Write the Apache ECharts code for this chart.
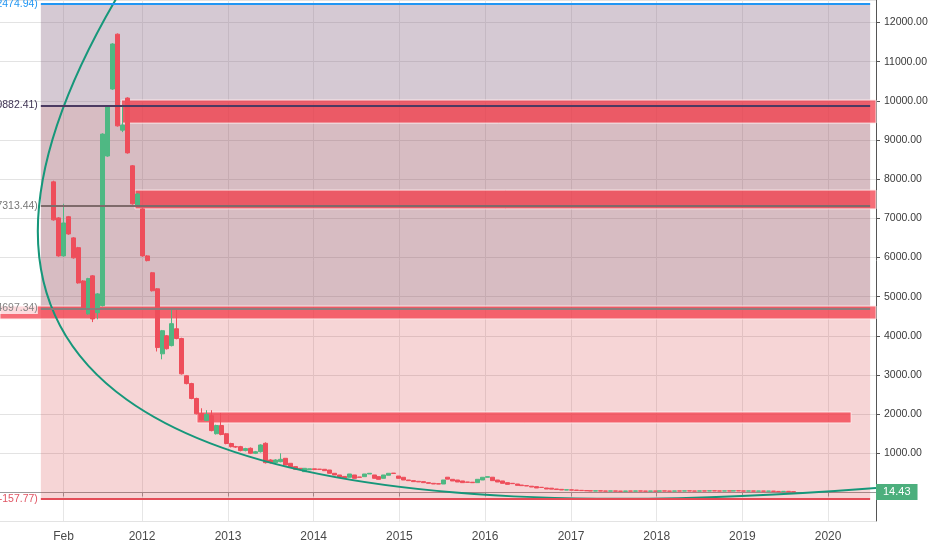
<!DOCTYPE html>
<html><head><meta charset="utf-8">
<script src="https://cdn.jsdelivr.net/npm/echarts@6/dist/echarts.min.js"></script>
<style>html,body{margin:0;padding:0;background:#fff}#c{width:932px;height:550px}</style>
</head><body><div id="c"></div>
<script>
// ---------- data ----------
const axisMinDate = '2010-05-06';
const axisMaxDate = '2020-07-23';
const xTickDates = ['2011-02-01','2012-01-01','2013-01-01','2014-01-01','2015-01-01','2016-01-01','2017-01-01','2018-01-01','2019-01-01','2020-01-01'];
const yMin = -728, yMax = 12573;

const candleStart = '2010-12-20';
const candleStepDays = 21;
const opens = [
 7930,7010,6040,7040,6500,6250,5400,4560,5530,4590,
 4770,8590,10300,11700,9250,10070,8340,7320,7240,6040,
 5610,5200,3540,4000,3750,4180,3930,2980,2780,2400,
 2010,1840,1960,1500,1710,1500,1250,1170,1170,1070,
 1128,1000,1042,1256,830,761,787,873,745,660,
 617,532,580,605,595,592,574,490,447,410,
 388,447,395,404,472,447,404,362,440,495,
 420,388,319,302,285,277,251,234,225,217,
 390,336,319,294,268,262,251,319,388,390,
 319,294,251,234,217,190,175,160,149,132,
 115,110,90,80,62,68,62,55,50,44,
 36,44,38,34,40,35,30,38,33,40,
 36,32,38,33,41,37,33,40,36,42,
 38,35,41,37,44,40,36,42,37,45,
 40,35,40,33,38,32,36,28,24,30,
 20];
const closes = [
 6960,6040,6880,6600,5990,5350,4720,5460,4430,5070,
 9150,9870,11450,9360,9380,8670,7370,7620,6040,5920,
 5150,3700,4130,3670,4310,3930,3030,2780,2400,2010,
 1860,1990,1580,1710,1480,1250,1170,1160,1070,1120,
 1000,1040,1213,761,761,830,847,702,643,592,
 595,617,605,585,590,557,490,447,388,370,
 472,362,388,472,490,362,336,447,490,485,
 362,319,302,277,270,251,234,217,215,319,
 340,294,268,251,260,250,336,388,404,302,
 268,234,208,225,183,175,166,140,115,128,
 89,85,75,64,70,60,52,48,42,38,
 44,36,34,40,33,30,38,34,40,35,
 32,38,33,41,36,33,40,36,42,38,
 35,41,37,44,40,36,42,37,45,40,
 35,40,33,38,32,36,28,24,30,20,
 14.43];
// wick extremes read for the early candles (later candles show no visible wick)
const highs = [
 7960,7030,7370,7060,6520,6270,5420,5480,5550,5090,
 9170,9890,11470,11720,9900,10090,8360,7640,7260,6060,
 5630,5220,4150,4020,4700,4700,3950,3000,2800,2420,
 2150,2100,2100,1730,2030,1520,1270,1190,1190,1140,
 1150,1060,1230,1280,850,850,1000];
const lows = [
 6940,6020,6020,6580,5970,5330,4700,4540,4350,4420,
 4750,8570,10280,9340,9200,8650,7350,7300,6020,5900,
 5130,3600,3400,3650,3730,3910,3010,2760,2380,1990,
 1840,1820,1560,1480,1460,1230,1150,1140,1050,1050,
 980,980,1020,740,740,740,770];
const lastPrice = 14.43;

const fibStart = '2010-10-27', fibEnd = '2020-06-28';
const fibLevels = [12474.94, 9882.41, 7313.44, 4697.34, -157.77];
const fibLabels = ['(12474.94)', '(9882.41)', '(7313.44)', '(4697.34)', '(-157.77)'];

const zoneStarts  = ['2011-10-05', '2011-12-02', '2010-05-06', '2012-08-22'];
const zoneEnds    = ['2020-07-23', '2020-07-23', '2020-07-23', '2020-04-08'];
const zoneTops    = [10020, 7720, 4760, 2055];
const zoneBottoms = [9430, 7240, 4430, 1775];

// curve drawing (quadratic curve tool): start, control, end points
const curveRefDate = '2012-01-01';
const curveCtrlDays   = [-9, -1690, 3126];
const curveCtrlValues = [13595, -2110, 115];

// ---------- styles ----------
const UP = '#4fb883', DOWN = '#ee4e5b';
const fibLineColors = ['#2196f3', '#4b3b62', '#7e6a6a', '#8c7c7c', '#e34d58'];
const fibLabelColors = ['#2196f3', '#3f3354', '#777777', '#858585', '#e05563'];
const fibFillColors = ['rgba(135,100,130,0.35)', 'rgba(145,70,85,0.36)', 'rgba(145,70,85,0.36)', 'rgba(210,45,50,0.20)'];
const FONT = 'Liberation Sans';

// ---------- build ----------
function t(s) { const p = s.split('-').map(Number); return Date.UTC(p[0], p[1] - 1, p[2]); }
const DAY = 86400000;
const t0 = t(candleStart);
const candleData = opens.map((o, i) => {
  const c = closes[i];
  const h = highs[i] != null ? highs[i] : Math.max(o, c);
  const l = lows[i] != null ? lows[i] : Math.min(o, c);
  return [t0 + i * candleStepDays * DAY, o, c, l, h];
});
const curveRef = t(curveRefDate);
const curveItem = [];
curveCtrlDays.forEach((d, i) => { curveItem.push(curveRef + d * DAY, curveCtrlValues[i]); });

const fibAreas = [];
for (let i = 0; i < fibLevels.length - 1; i++) {
  fibAreas.push([
    { xAxis: t(fibStart), yAxis: fibLevels[i], itemStyle: { color: fibFillColors[i] } },
    { xAxis: t(fibEnd), yAxis: fibLevels[i + 1] }
  ]);
}
const zoneAreas = zoneStarts.map((s, i) => [
  { xAxis: t(s), yAxis: zoneTops[i] },
  { xAxis: t(zoneEnds[i]), yAxis: zoneBottoms[i] }
]);
const fibLines = fibLevels.map((lv, i) => [
  { coord: [t(fibStart), lv], lineStyle: { color: fibLineColors[i], width: 2, type: 'solid' },
    label: { show: true, position: 'start', formatter: fibLabels[i], color: fibLabelColors[i], fontSize: 10.5, fontFamily: FONT, distance: 3,
             backgroundColor: i === 3 ? 'rgba(255,255,255,0.75)' : 'transparent' } },
  { coord: [t(fibEnd), lv] }
]);

const chart = echarts.init(document.getElementById('c'), null, { renderer: 'canvas' });
chart.setOption({
  animation: false,
  backgroundColor: '#ffffff',
  textStyle: { fontFamily: FONT },
  grid: { left: 0, right: 56, top: 0, bottom: 29, containLabel: false },
  xAxis: {
    type: 'value', min: t(axisMinDate), max: t(axisMaxDate),
    axisLine: { show: true, lineStyle: { color: '#9a9a9a', width: 1 } },
    axisTick: { show: true, length: 4, lineStyle: { color: '#9a9a9a' }, customValues: xTickDates.map(t) },
    axisLabel: {
      customValues: xTickDates.map(t), color: '#4a4a4a', fontSize: 12, fontFamily: FONT, margin: 10,
      formatter: v => { const d = new Date(v); return d.getUTCMonth() === 1 ? 'Feb' : String(d.getUTCFullYear()); }
    },
    splitLine: { show: true, lineStyle: { color: '#e6e6e6', width: 1 } }
  },
  yAxis: {
    type: 'value', position: 'right', min: yMin, max: yMax, splitNumber: 13,
    axisLine: { show: true, lineStyle: { color: '#555555', width: 1 } },
    axisTick: { show: true, length: 4, lineStyle: { color: '#555555' } },
    axisLabel: { color: '#3a3a3a', fontSize: 10.5, fontFamily: FONT, margin: 8, showMinLabel: false, showMaxLabel: false,
      formatter: v => v === 0 ? '' : v.toFixed(2) },
    splitLine: { show: true, lineStyle: { color: '#e3e3e3', width: 1 } }
  },
  series: [
    { name: 'fibFill', type: 'line', data: [], z: 1, silent: true,
      markArea: { silent: true, data: fibAreas } },
    { name: 'zones', type: 'line', data: [], z: 1, silent: true,
      markArea: { silent: true, itemStyle: { color: 'rgba(242,52,66,0.72)', borderColor: 'rgba(255,236,236,0.9)', borderWidth: 1 }, data: zoneAreas } },
    { name: 'price', type: 'candlestick', z: 2, data: candleData, encode: { x: 0, y: [1, 2, 3, 4] },
      barWidth: 4.5,
      itemStyle: { color: UP, color0: DOWN, borderColor: UP, borderColor0: DOWN, borderWidth: 1 } },
    { name: 'fibLines', type: 'line', data: [], z: 3, silent: true,
      markLine: { silent: true, symbol: ['none', 'none'], data: fibLines } },
    { name: 'curve', type: 'custom', z: 4, silent: true, clip: true,
      encode: { x: [0, 2, 4], y: [1, 3, 5] },
      data: [curveItem],
      renderItem: (params, api) => {
        const p0 = api.coord([api.value(0), api.value(1)]);
        const cp = api.coord([api.value(2), api.value(3)]);
        const p2 = api.coord([api.value(4), api.value(5)]);
        return { type: 'bezierCurve',
          shape: { x1: p0[0], y1: p0[1], cpx1: cp[0], cpy1: cp[1], x2: p2[0], y2: p2[1] },
          style: { stroke: '#16977a', lineWidth: 2, fill: null } };
      } },
    { name: 'last', type: 'line', data: [], z: 5, silent: true,
      markLine: { silent: true, symbol: ['none', 'none'], lineStyle: { color: 'rgba(0,0,0,0)', width: 1, type: 'solid' },
        label: { show: true, position: 'end', distance: 0, formatter: String(lastPrice), color: '#ffffff', backgroundColor: '#4caf7d',
                 padding: [3, 7, 2, 7], fontSize: 11, fontFamily: FONT },
        data: [{ yAxis: lastPrice }] } }
  ]
});
</script></body></html>
